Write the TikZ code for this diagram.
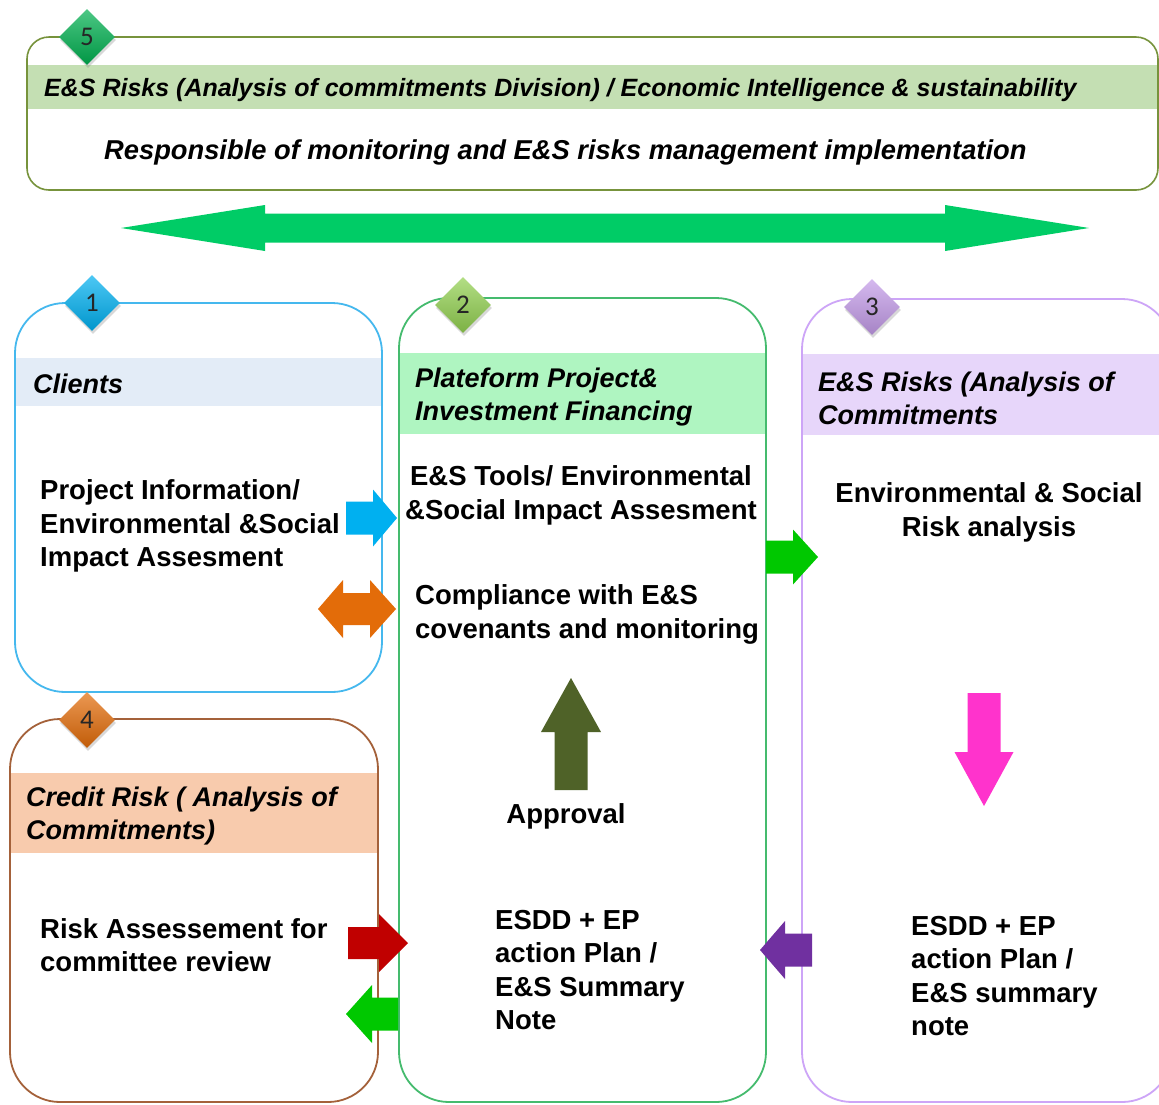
\documentclass[tikz,border=0pt]{standalone}
\usepackage{fontspec}
\setmainfont{Liberation Sans}
\newfontfamily\numfont{Carlito}
\usetikzlibrary{shapes.geometric,shadows}
\definecolor{cfive}{HTML}{77933C}
\definecolor{bandfive}{HTML}{C4DFB3}
\definecolor{cone}{HTML}{45B8EE}
\definecolor{bandone}{HTML}{E3ECF7}
\definecolor{ctwo}{HTML}{45BB6E}
\definecolor{bandtwo}{HTML}{AFF5C1}
\definecolor{cthree}{HTML}{CDA5F7}
\definecolor{bandthree}{HTML}{E7D6FA}
\definecolor{cfour}{HTML}{A4613A}
\definecolor{bandfour}{HTML}{F8CBAD}
\definecolor{dfive}{HTML}{00B050}
\definecolor{done}{HTML}{00B0F0}
\definecolor{dtwo}{HTML}{92D050}
\definecolor{dthree}{HTML}{C39BE8}
\definecolor{dfour}{HTML}{E36C09}
\definecolor{abig}{HTML}{00CC66}
\definecolor{ablue}{HTML}{00B0F0}
\definecolor{aorange}{HTML}{E36C09}
\definecolor{agreen}{HTML}{00C800}
\definecolor{ared}{HTML}{C00000}
\definecolor{apurple}{HTML}{7030A0}
\definecolor{aolive}{HTML}{4F6228}
\definecolor{apink}{HTML}{FF33CC}
\newcommand\hArrowX[7]{\fill[#1] (#2,{#5-#6}) -- (#3,{#5-#6}) -- (#3,{#5-#7}) -- (#4,#5) -- (#3,{#5+#7}) -- (#3,{#5+#6}) -- (#2,{#5+#6}) -- cycle;}
\newcommand\vArrowX[7]{\fill[#1] ({#5-#6},#2) -- ({#5-#6},#3) -- ({#5-#7},#3) -- (#5,#4) -- ({#5+#7},#3) -- ({#5+#6},#3) -- ({#5+#6},#2) -- cycle;}
\newcommand\dArrowX[8]{\fill[#1] (#2,#6) -- (#3,{#6-#8}) -- (#3,{#6-#7}) -- (#4,{#6-#7}) -- (#4,{#6-#8}) -- (#5,#6) -- (#4,{#6+#8}) -- (#4,{#6+#7}) -- (#3,{#6+#7}) -- (#3,{#6+#8}) -- cycle;}
\begin{document}
\begin{tikzpicture}[x=1pt,y=-1pt,
  hdr/.style={font=\fontsize{27}{33}\selectfont\bfseries\itshape, inner sep=0, anchor=west, align=left},
  hdrtop/.style={font=\fontsize{25}{30}\selectfont\bfseries\itshape, inner sep=0, anchor=west},
  bodytxt/.style={font=\fontsize{27.5}{33.3}\selectfont\bfseries, inner sep=0, align=left},
  boxline/.style={line width=1.8pt, rounded corners=50},
  diam/.style={diamond, minimum width=56, minimum height=56, inner sep=0,
    font=\fontsize{27}{27}\selectfont\numfont, text=black!85,
    drop shadow={opacity=0.3, shadow xshift=1pt, shadow yshift=-3pt}}]
\clip (0,0) rectangle (1159,1104);
\fill[white] (0,0) rectangle (1159,1104);

% box 5
\fill[bandfive] (27,65) rectangle (1165,109);
\draw[cfive, line width=1.6pt, rounded corners=22] (27,37) rectangle (1158,190);
\node[hdrtop] (h5) at (44,90) {E\&S Risks (Analysis of commitments Division) / Economic Intelligence \& sustainability};
\node[hdrtop, font=\fontsize{27.3}{30}\selectfont\bfseries\itshape] (b5) at (104,152) {Responsible of monitoring and E\&S risks management implementation};

% big double arrow
\dArrowX{abig}{121}{265}{945}{1089}{228}{14.5}{23}

% box 1
\fill[bandone] (15,358) rectangle (382,406);
\draw[boxline, cone] (15,303) rectangle (382,692);
\node[hdr] (h1) at (33,384) {Clients};
\node[bodytxt, anchor=west] (t1) at (40,526) {Project Information/\\Environmental \&Social\\Impact Assesment};

% box 2
\fill[bandtwo] (399,353) rectangle (766,434);
\draw[boxline, ctwo] (399,298) rectangle (766,1102);
\node[hdr] (h2) at (415,397.5) {Plateform Project\&\\Investment Financing};
\node[bodytxt, align=center] (t2a) at (581,495.5) {E\&S Tools/ Environmental\\\&Social Impact Assesment};
\node[bodytxt, anchor=west] (t2b) at (415,614.5) {Compliance with E\&S\\covenants and monitoring};
\node[bodytxt] (t2c) at (566,816) {Approval};
\node[bodytxt, anchor=west] (t2d) at (495,970) {ESDD + EP\\action Plan /\\E\&S Summary\\Note};

% box 3
\fill[bandthree] (802,354) rectangle (1172,435);
\draw[boxline, cthree] (802,299) rectangle (1172,1102);
\node[hdr] (h3) at (818,398) {E\&S Risks (Analysis of\\Commitments};
\node[bodytxt, align=center] (t3a) at (989,512.5) {Environmental \& Social\\Risk analysis};
\node[bodytxt, anchor=west] (t3b) at (911,976) {ESDD + EP\\action Plan /\\E\&S summary\\note};

% box 4
\fill[bandfour] (10,773) rectangle (378,853);
\draw[boxline, cfour] (10,719) rectangle (378,1102);
\node[hdr] (h4) at (26,816.5) {Credit Risk ( Analysis of\\Commitments)};
\node[bodytxt, anchor=west] (t4) at (40,945) {Risk Assessement for\\committee review};

% block arrows
\hArrowX{ablue}{346}{373}{397}{518}{16.5}{28.5}
\dArrowX{aorange}{318}{343}{370}{396}{609}{16}{29}
\hArrowX{agreen}{766}{793}{818}{557}{16.5}{27.5}
\hArrowX{ared}{348}{379}{408}{943}{16}{29}
\hArrowX{agreen}{398}{372}{346}{1014}{16.5}{29}
\hArrowX{apurple}{812}{785}{760}{950}{16.5}{29}
\vArrowX{aolive}{790}{732}{678}{571}{16.5}{30}
\vArrowX{apink}{693}{752}{806}{984}{16.5}{29.5}

% diamonds
\node[diam, top color=dfive!70!white, bottom color=dfive!85!black] (d5) at (87,37) {5};
\node[diam, top color=done!70!white, bottom color=done!85!black] (d1) at (92,303) {1};
\node[diam, top color=dtwo!70!white, bottom color=dtwo!85!black] (d2) at (463,305) {2};
\node[diam, top color=dthree!70!white, bottom color=dthree!85!black] (d3) at (872,307) {3};
\node[diam, top color=dfour!70!white, bottom color=dfour!85!black] (d4) at (87,720) {4};
\end{tikzpicture}
\end{document}
